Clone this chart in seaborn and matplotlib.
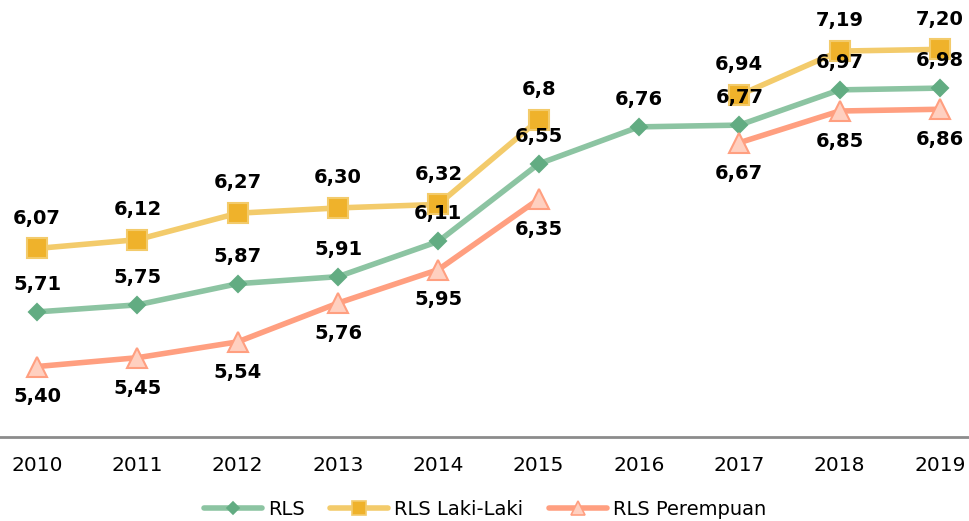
import numpy as np
import pandas as pd
import matplotlib.pyplot as plt
import seaborn as sns
from matplotlib.lines import Line2D

years = ['2010', '2011', '2012', '2013', '2014', '2015', '2016', '2017', '2018', '2019']
rls = [5.71, 5.75, 5.87, 5.91, 6.11, 6.55, 6.76, 6.77, 6.97, 6.98]
rls_laki = [6.07, 6.12, 6.27, 6.30, 6.32, 6.8, np.nan, 6.94, 7.19, 7.20]
rls_perempuan = [5.40, 5.45, 5.54, 5.76, 5.95, 6.35, np.nan, 6.67, 6.85, 6.86]
labels_laki = ['6,07', '6,12', '6,27', '6,30', '6,32', '6,8', '', '6,94', '7,19', '7,20']

sns.set_theme(style='white')
plt.rcParams['font.family'] = ['DejaVu Sans']

fig = plt.figure(figsize=(9.7, 5.21), dpi=100)
ax = fig.add_axes([0, 1 - 437 / 521, 1, 437 / 521])

series = [
    ('RLS', rls, '#8cc4a2', '#62ac82', '#62ac82', 'D', 8, 6),
    ('RLS Laki-Laki', rls_laki, '#f3cb6b', '#efb22b', '#f3cb6b', 's', 14, 10),
    ('RLS Perempuan', rls_perempuan, '#ff9f80', '#ffd0c0', '#ff9f80', '^', 14, 10),
]

df = pd.DataFrame({'pos': np.arange(len(years)), 'RLS': rls,
                   'RLS Laki-Laki': rls_laki, 'RLS Perempuan': rls_perempuan})

handles = []
for name, vals, lc, mfc, mec, mk, ms, lms in series:
    d = df[['pos', name]].copy()
    d['seg'] = d[name].isna().cumsum()
    d = d.dropna()
    for _, g in d.groupby('seg'):
        sns.lineplot(data=g, x='pos', y=name, ax=ax, color=lc, linewidth=4,
                     marker=mk, markersize=ms, markerfacecolor=mfc,
                     markeredgecolor=mec, markeredgewidth=1.5, zorder=3)
    handles.append(Line2D([], [], color=lc, linewidth=4, marker=mk, markersize=lms,
                          markerfacecolor=mfc, markeredgecolor=mec, markeredgewidth=1.2))

lab_kw = dict(textcoords='offset points', ha='center', fontsize=14,
              fontweight='bold', color='black', zorder=5)
for i, v in enumerate(rls):
    ax.annotate(f'{v:.2f}'.replace('.', ','), (i, v), xytext=(0, 13), va='bottom', **lab_kw)
for i, v in enumerate(rls_laki):
    if not np.isnan(v):
        ax.annotate(labels_laki[i], (i, v), xytext=(0, 15), va='bottom', **lab_kw)
for i, v in enumerate(rls_perempuan):
    if not np.isnan(v):
        ax.annotate(f'{v:.2f}'.replace('.', ','), (i, v), xytext=(0, -15), va='top', **lab_kw)

ax.set_xlim(-0.37, 9.3)
ax.set_ylim(5.0, 7.48)
ax.set_xticks(np.arange(len(years)))
ax.set_xticklabels(years, fontsize=14.5, color='black')
ax.tick_params(axis='x', length=0, pad=14)
ax.set_yticks([])
ax.set_xlabel('')
ax.set_ylabel('')
for s in ['top', 'right', 'left']:
    ax.spines[s].set_visible(False)
ax.spines['bottom'].set_color('#8c8c8c')
ax.spines['bottom'].set_linewidth(2)

if ax.get_legend() is not None:
    ax.get_legend().remove()
leg = fig.legend(handles, [s[0] for s in series], loc='lower center', ncol=3,
                 bbox_to_anchor=(0.5, -0.03), frameon=False, fontsize=14,
                 handlelength=3.0, columnspacing=1.3, handletextpad=0.3)
for t in leg.get_texts():
    t.set_color('black')

fig.savefig('out.png', dpi=100)
